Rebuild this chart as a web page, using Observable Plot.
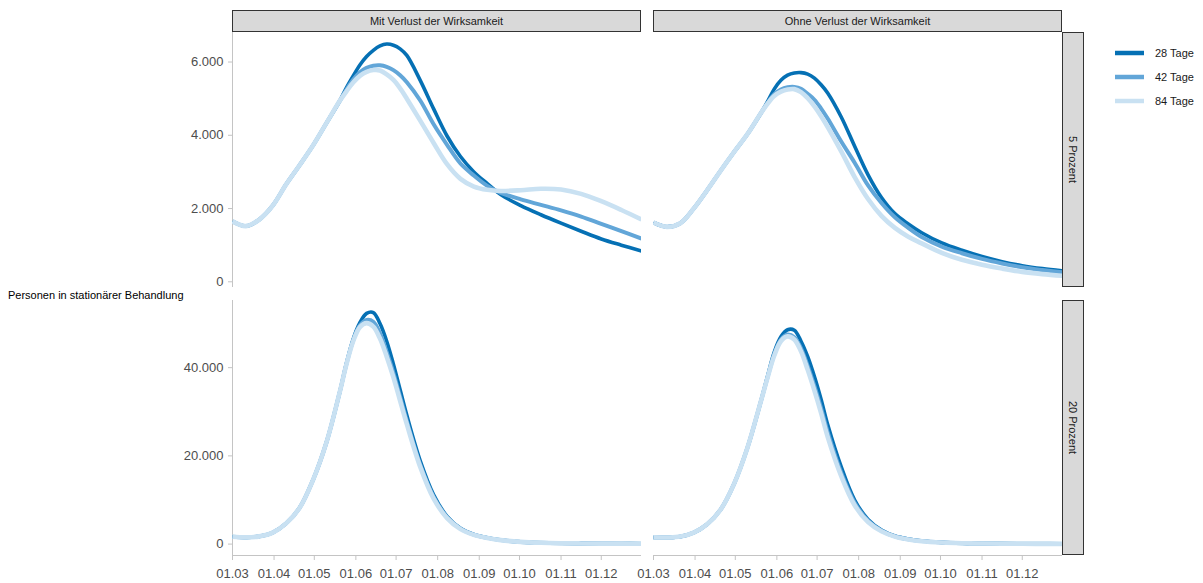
<!DOCTYPE html>
<html>
<head>
<meta charset="utf-8">
<script src="https://cdn.jsdelivr.net/npm/d3@7"></script>
<script src="https://cdn.jsdelivr.net/npm/@observablehq/plot@0.6"></script>
<style>
  body { margin: 0; background: #fff; font-family: "Liberation Sans", Arial, sans-serif; }
  #chart { position: relative; width: 1203px; height: 583px; overflow: hidden; background: #fff; }
  #chart > svg, #chart > div { position: absolute; }
</style>
</head>
<body>
<div id="chart"></div>
<script>
// ---------------- data ----------------
const startDate = "2021-03-01";
const endDate = "2021-12-31";
// days after 1 March
const days = [0,10,20,30,40,50,60,70,80,85,90,95,100,105,110,115,120,125,130,140,150,160,170,180,190,200,215,230,245,260,275,290,305];
const tickDates = ["2021-03-01","2021-04-01","2021-05-01","2021-06-01","2021-07-01","2021-08-01","2021-09-01","2021-10-01","2021-11-01","2021-12-01"];
const seriesNames = ["28 Tage", "42 Tage", "84 Tage"];
const columnLabels = ["Mit Verlust der Wirksamkeit", "Ohne Verlust der Wirksamkeit"];
const rowLabels = ["5 Prozent", "20 Prozent"];
const yTicksTop = [0, 2000, 4000, 6000];
const yTicksBottom = [0, 20000, 40000];
const yAxisTitle = "Personen in stationärer Behandlung";

// Mit Verlust der Wirksamkeit, 5 Prozent
const mit5_28 = [1650,1520,1700,2080,2660,3180,3720,4330,4940,5300,5620,5920,6150,6320,6440,6490,6460,6360,6180,5500,4720,3980,3420,3000,2680,2380,2080,1830,1600,1380,1170,1000,840];
const mit5_42 = [1650,1520,1700,2080,2660,3180,3720,4330,4940,5250,5520,5720,5840,5900,5910,5870,5780,5640,5450,4950,4300,3740,3230,2900,2620,2430,2250,2100,1950,1780,1580,1380,1180];
const mit5_84 = [1650,1520,1700,2080,2660,3180,3720,4330,4940,5200,5440,5620,5730,5780,5770,5660,5510,5280,5000,4400,3790,3210,2810,2600,2510,2480,2500,2540,2520,2400,2200,1960,1700];
// Ohne Verlust der Wirksamkeit, 5 Prozent
const ohne5_28 = [1620,1500,1600,2000,2500,3030,3540,4030,4600,4920,5260,5500,5640,5700,5710,5670,5560,5380,5150,4500,3700,2920,2300,1860,1580,1340,1060,860,690,550,440,360,300];
const ohne5_42 = [1620,1500,1600,2000,2500,3030,3540,4030,4600,4880,5120,5250,5310,5320,5270,5130,4970,4730,4450,3830,3250,2630,2150,1760,1470,1220,960,780,625,500,395,320,255];
const ohne5_84 = [1620,1500,1600,2000,2500,3030,3540,4030,4600,4860,5070,5190,5250,5260,5180,5010,4790,4520,4220,3560,2860,2260,1800,1470,1230,1050,790,600,465,360,270,210,165];
// Mit Verlust der Wirksamkeit, 20 Prozent
const mit20_28 = [1650,1520,1750,2600,4700,8200,14500,23000,34500,41000,46500,50200,52300,52500,50000,46000,40800,35000,29200,18900,11200,6300,3600,2200,1430,920,510,310,210,160,130,110,95];
const mit20_42 = [1650,1520,1750,2600,4700,8200,14500,23000,34500,40900,46200,49600,50800,50400,47800,43500,38800,33400,27900,18000,10700,6100,3500,2150,1420,910,500,300,200,150,120,100,90];
const mit20_84 = [1650,1520,1750,2600,4700,8200,14500,23000,34500,40800,46000,49200,50100,49300,46600,42500,37800,32500,27200,17500,10300,5900,3400,2100,1400,900,500,300,200,150,120,100,90];
// Ohne Verlust der Wirksamkeit, 20 Prozent
const ohne20_28 = [1520,1500,1700,2600,4500,7800,13600,21800,32300,38000,43500,47000,48600,48500,46000,42500,38000,32800,27000,17500,10000,5600,3200,1850,1150,710,385,220,150,100,80,62,52];
const ohne20_42 = [1520,1500,1700,2600,4500,7800,13600,21800,32300,37800,43000,46400,47500,46900,44400,40400,35800,30800,25300,16200,9400,5300,3050,1780,1100,680,370,210,140,95,75,60,50];
const ohne20_84 = [1520,1500,1700,2600,4500,7800,13600,21800,32300,37700,42700,46000,47100,46400,43700,39500,34800,29700,24200,15400,8800,5000,2900,1700,1050,650,350,200,130,90,70,55,45];

// ---------------- styles ----------------
const colors = ["#0570b4", "#62a6d8", "#c9e1f2"];
const widths = [3.6, 4.0, 4.6];
const axisGray = "#c4c4c4";
const labelGray = "#4d4d4d";
const font = "Liberation Sans, Arial, sans-serif";

// ---------------- helpers ----------------
const start = new Date(startDate);
const xDomain = [start, new Date(endDate)];
const fmtDE = d3.formatLocale({decimal: ",", thousands: ".", grouping: [3], currency: ["", " €"]}).format(",");
const fmtDate = d3.utcFormat("%d.%m");
const ticks = tickDates.map(d => new Date(d));

function toRows(values, name) {
  return days.map((d, i) => ({date: d3.utcDay.offset(start, d), value: values[i], series: name}));
}

const chart = document.getElementById("chart");

const P = {left: 232, w: 409, gap: 12, top: 32, h: 255, vgap: 13, strip: 22, stripH: 22};
const colX = [P.left, P.left + P.w + P.gap];
const rowY = [P.top, P.top + P.h + P.vgap];

function panel({col, row, series, yDomain, yTicks}) {
  const showY = col === 0;
  const showX = row === 1;
  const padL = showY ? P.left : 20;
  const padB = showX ? 28 : 0;
  const marks = [];
  if (showY) {
    marks.push(Plot.ruleX([xDomain[0]], {stroke: axisGray, strokeWidth: 1}));
    marks.push(Plot.axisY({ticks: yTicks, tickFormat: fmtDE, tickSize: 4, tickPadding: 5,
      stroke: axisGray, fill: labelGray, label: null, fontSize: 13}));
  }
  if (showX) {
    marks.push(Plot.ruleY([yDomain[0]], {stroke: axisGray, strokeWidth: 1}));
    marks.push(Plot.axisX({ticks: ticks, tickFormat: fmtDate, tickSize: 5, tickPadding: 8,
      stroke: axisGray, fill: labelGray, label: null, fontSize: 13}));
  }
  series.forEach((vals, i) => {
    marks.push(Plot.line(toRows(vals, seriesNames[i]), {
      x: "date", y: "value", stroke: colors[i], strokeWidth: widths[i],
      curve: "catmull-rom", clip: true, strokeLinecap: "butt"
    }));
  });
  const svg = Plot.plot({
    width: padL + P.w,
    height: P.h + padB,
    marginLeft: padL, marginRight: 0, marginTop: 0, marginBottom: padB,
    x: {type: "utc", domain: xDomain, ...(showX ? {} : {axis: null})},
    y: {domain: yDomain, ...(showY ? {} : {axis: null})},
    style: {background: "transparent", fontFamily: font, fontSize: "13px", overflow: "visible"},
    marks
  });
  svg.style.position = "absolute";
  svg.style.left = (colX[col] - padL) + "px";
  svg.style.top = rowY[row] + "px";
  chart.appendChild(svg);
}

const topDomain = [-156, 6806];
const bottomDomain = [-2583, 55228];
panel({col: 0, row: 0, series: [mit5_28, mit5_42, mit5_84], yDomain: topDomain, yTicks: yTicksTop});
panel({col: 1, row: 0, series: [ohne5_28, ohne5_42, ohne5_84], yDomain: topDomain, yTicks: yTicksTop});
panel({col: 0, row: 1, series: [mit20_28, mit20_42, mit20_84], yDomain: bottomDomain, yTicks: yTicksBottom});
panel({col: 1, row: 1, series: [ohne20_28, ohne20_42, ohne20_84], yDomain: bottomDomain, yTicks: yTicksBottom});

// ---------------- strips, legend, axis title ----------------
const ov = d3.select(chart).append("svg")
  .attr("width", 1203).attr("height", 583)
  .style("left", "0px").style("top", "0px")
  .style("pointer-events", "none")
  .style("font-family", font);

columnLabels.forEach((lab, i) => {
  ov.append("rect").attr("x", colX[i] + 0.5).attr("y", P.top - P.stripH + 0.5)
    .attr("width", P.w - 1).attr("height", P.stripH - 1)
    .attr("fill", "#d9d9d9").attr("stroke", "#333").attr("stroke-width", 1);
  ov.append("text").attr("x", colX[i] + P.w / 2).attr("y", P.top - P.stripH / 2)
    .attr("text-anchor", "middle").attr("dominant-baseline", "central")
    .attr("font-size", 11).attr("fill", "#1a1a1a").text(lab);
});
const stripX = colX[1] + P.w;
rowLabels.forEach((lab, j) => {
  ov.append("rect").attr("x", stripX + 0.5).attr("y", rowY[j] + 0.5)
    .attr("width", P.strip - 1).attr("height", P.h - 1)
    .attr("fill", "#d9d9d9").attr("stroke", "#333").attr("stroke-width", 1);
  const cx = stripX + P.strip / 2, cy = rowY[j] + P.h / 2;
  ov.append("text").attr("transform", `translate(${cx},${cy}) rotate(90)`)
    .attr("text-anchor", "middle").attr("dominant-baseline", "central")
    .attr("font-size", 11).attr("fill", "#1a1a1a").text(lab);
});

seriesNames.forEach((name, i) => {
  const y = 53 + i * 24;
  ov.append("line").attr("x1", 1115).attr("x2", 1144).attr("y1", y).attr("y2", y)
    .attr("stroke", colors[i]).attr("stroke-width", 4.5);
  ov.append("text").attr("x", 1155).attr("y", y).attr("dominant-baseline", "central")
    .attr("font-size", 11).attr("fill", "#1a1a1a").text(name);
});

ov.append("text").attr("x", 8).attr("y", 295).attr("dominant-baseline", "central")
  .attr("font-size", 11).attr("fill", "#000").text(yAxisTitle);
</script>
</body>
</html>
